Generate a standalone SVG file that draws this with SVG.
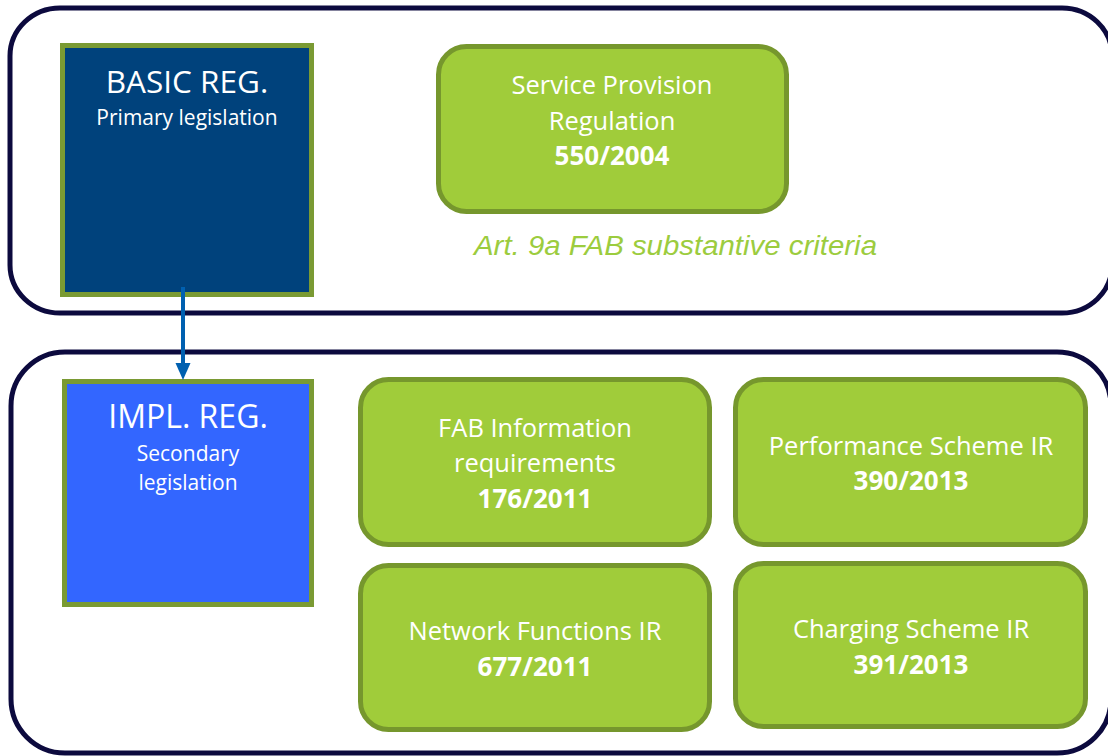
<svg xmlns="http://www.w3.org/2000/svg" width="1108" height="756" viewBox="0 0 1108 756">
<defs>
<style>
.frame{fill:#ffffff;stroke:#0c0a3e;stroke-width:5}
.sq{stroke:#7a9a33;stroke-width:5}
.gb{fill:#a0cc3a;stroke:#76972d;stroke-width:5}
.t{font-family:"Open Sans","Liberation Sans",sans-serif;fill:#ffffff;text-anchor:middle}
.g{font-size:25.5px}
.b{font-weight:bold;font-size:26px}
.note{font-family:"Liberation Sans",Arial,sans-serif;font-style:italic;fill:#9ccc3e;font-size:27px}
</style>
</defs>
<g id="containers">
<rect class="frame" x="10" y="8" width="1102" height="305" rx="50" ry="48"/>
<rect class="frame" x="11" y="352" width="1100" height="401" rx="54" ry="54"/>
</g>
<g id="basic-reg">
<rect class="sq" x="62.5" y="45.5" width="249" height="249" fill="#00427c"/>
<text class="t" x="187" y="93" font-size="31.5">BASIC REG.</text>
<text class="t" x="187" y="125" font-size="21">Primary legislation</text>
</g>
<g id="impl-reg">
<rect class="sq" x="64.5" y="381.5" width="247" height="223" fill="#3366ff"/>
<text class="t" x="188" y="428" font-size="32">IMPL. REG.</text>
<text class="t" x="188" y="461" font-size="21">Secondary</text>
<text class="t" x="188" y="490" font-size="21">legislation</text>
</g>
<g id="service-provision">
<rect class="gb" x="438.5" y="46.5" width="348" height="165" rx="28"/>
<text class="t g" x="612" y="94">Service Provision</text>
<text class="t g" x="612" y="130">Regulation</text>
<text class="t b" x="612" y="165">550/2004</text>
</g>
<g id="art9a">
<text class="note" x="474" y="255" textLength="403" lengthAdjust="spacingAndGlyphs">Art. 9a FAB substantive criteria</text>
</g>
<g id="fab-info">
<rect class="gb" x="360.5" y="379.5" width="349" height="165" rx="28"/>
<text class="t g" x="535" y="437">FAB Information</text>
<text class="t g" x="535" y="472">requirements</text>
<text class="t b" x="535" y="508">176/2011</text>
</g>
<g id="performance">
<rect class="gb" x="735.5" y="379.5" width="350" height="165" rx="28"/>
<text class="t g" x="911" y="455">Performance Scheme IR</text>
<text class="t b" x="911" y="490">390/2013</text>
</g>
<g id="network">
<rect class="gb" x="360.5" y="565.5" width="349" height="164" rx="28"/>
<text class="t g" x="535" y="640">Network Functions IR</text>
<text class="t b" x="535" y="676">677/2011</text>
</g>
<g id="charging">
<rect class="gb" x="735.5" y="563.5" width="350" height="163" rx="28"/>
<text class="t g" x="911" y="638">Charging Scheme IR</text>
<text class="t b" x="911" y="674">391/2013</text>
</g>
<g id="connectors">
<line x1="183" y1="287" x2="183" y2="366" stroke="#0060b0" stroke-width="4"/>
<polygon points="175.5,363 190.5,363 183,380" fill="#0060b0"/>
</g>
</svg>
